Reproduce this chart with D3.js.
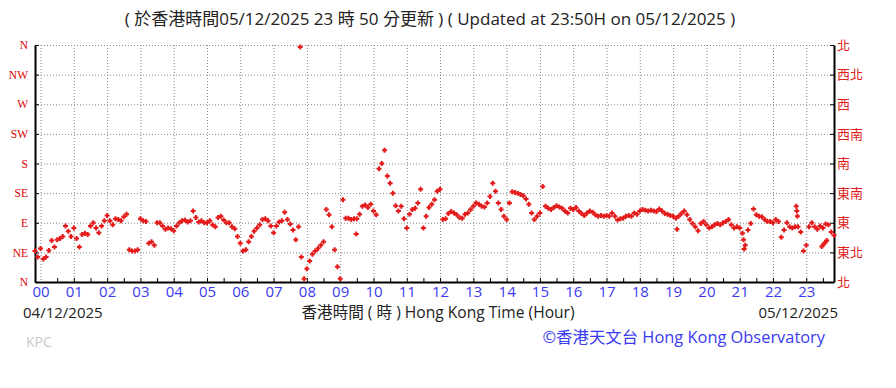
<!DOCTYPE html>
<html>
<head>
<meta charset="utf-8">
<script src="https://cdn.jsdelivr.net/npm/d3@7"></script>
<style>
body { margin: 0; background: #fff; }
svg { display: block; }
text { font-family: "Open Sans", "Noto Sans CJK TC", sans-serif; }
</style>
</head>
<body>
<svg id="chart" width="896" height="388"></svg>
<script>
// wind direction (degrees), one reading every 5 minutes from 23:50 of the day before
const startMin = -10;
const stepMin = 5;
const windDir = [
    47, 38,                                              // 23:50
    51, 35, 38, 48, 63, 53, 64, 66, 69, 85, 77, 69,      // 00
    82, 66, 53, 72, 74, 72, 85, 90, 82, 75, 85, 93,      // 01
    101, 93, 87, 96, 95, 93, 99, 103, 49, 47, 47, 49,    // 02
    96, 93, 92, 59, 61, 56, 90, 90, 85, 80, 82, 81,      // 03
    78, 85, 90, 93, 94, 91, 93, 108, 98, 91, 93, 90,     // 04
    90, 93, 87, 84, 98, 100, 94, 90, 90, 84, 81, 69,     // 05
    59, 47, 49, 61, 69, 77, 82, 87, 95, 96, 93, 85,      // 06
    75, 85, 91, 93, 106, 95, 88, 79, 64, 84, 38, 5,      // 07
    20, 32, 42, 47, 51, 56, 61, 110, 102, 84, 49, 23,    // 08
    5, 125, 97, 97, 95, 96, 96, 103, 115, 117, 113, 118, // 09
    108, 102, 172, 180, 200, 161, 150, 135, 116, 108, 115, 96, // 10
    82, 103, 110, 112, 120, 141, 82, 100, 113, 118, 125, 138,  // 11
    141, 95, 96, 104, 107, 105, 102, 98, 97, 103, 105, 110,    // 12
    115, 120, 118, 115, 114, 120, 130, 150, 138, 120, 110, 100, // 13
    95, 120, 137, 136, 135, 133, 131, 126, 118, 105, 95, 100,  // 14
    105, 145, 115, 112, 110, 113, 116, 114, 112, 108, 105, 112, // 15
    110, 113, 108, 104, 101, 105, 108, 106, 102, 100, 101, 100, // 16
    101, 100, 105, 100, 94, 96, 97, 100, 101, 100, 105, 103,   // 17
    108, 110, 109, 108, 109, 108, 107, 111, 108, 104, 103, 101, // 18
    100, 97, 100, 104, 108, 102, 95, 89, 84, 78, 89, 92,       // 19
    87, 82, 84, 87, 89, 87, 90, 92, 95, 87, 82, 84,            // 20
    82, 74, 56, 79, 89, 111, 102, 100, 99, 95, 92, 92,         // 21
    90, 95, 92, 68, 79, 90, 84, 82, 84, 84, 76, 47,            // 22
    56, 84, 90, 84, 80, 85, 82, 88, 87, 76, 71                 // 23
];
// stray readings: [minute, degrees]
const extraDir = [
    [468, 357], [569, 73], [1147, 80], [1267, 64], [1268, 50],
    [1362, 115], [1363, 108], [1364, 100],
    [1408, 54], [1411, 57], [1414, 60], [1417, 63]
];

const hours = d3.range(0, 24);
const dirTicks = [0, 45, 90, 135, 180, 225, 270, 315, 360];
const dirLabelsEn = ["N", "NE", "E", "SE", "S", "SW", "W", "NW", "N"];
const dirLabelsZh = ["北", "東北", "東", "東南", "南", "西南", "西", "西北", "北"];

const svg = d3.select("#chart");
const plotLeft = 35, plotRight = 834, plotTop = 45, plotBottom = 282;

const x = d3.scaleLinear().domain([startMin, 1430]).range([plotLeft, plotRight]);
const y = d3.scaleLinear().domain([0, 360]).range([plotBottom, plotTop]);

// gridlines
svg.append("g")
    .attr("transform", "translate(0," + plotTop + ")")
    .call(d3.axisBottom(x).tickValues(hours.map(h => h * 60)).tickSize(plotBottom - plotTop).tickFormat(""))
    .call(g => g.select(".domain").remove())
    .selectAll("line")
    .attr("stroke", "#8a8a8a")
    .attr("stroke-dasharray", "1,2");

svg.append("g")
    .attr("transform", "translate(" + plotLeft + ",0)")
    .call(d3.axisLeft(y).tickValues(dirTicks).tickSize(plotLeft - plotRight).tickFormat(""))
    .call(g => g.select(".domain").remove())
    .selectAll("line")
    .attr("stroke", "#8a8a8a")
    .attr("stroke-dasharray", "1,2");

// axes
let yLeft = svg.append("g")
    .attr("transform", "translate(" + plotLeft + ",0)")
    .call(d3.axisLeft(y).tickValues(dirTicks).tickSize(-4).tickSizeOuter(0).tickPadding(7)
        .tickFormat((d, i) => dirLabelsEn[i]));
yLeft.selectAll("text")
    .style("font-family", "'Liberation Serif', serif")
    .style("font-size", "11.5px")
    .attr("fill", "#e00000");

let yRight = svg.append("g")
    .attr("transform", "translate(" + plotRight + ",0)")
    .call(d3.axisRight(y).tickValues(dirTicks).tickSize(-4).tickSizeOuter(0).tickPadding(3)
        .tickFormat((d, i) => dirLabelsZh[i]));
yRight.selectAll("text")
    .style("font-size", "13px")
    .attr("fill", "#e02020");

let xAxis = svg.append("g")
    .attr("transform", "translate(0," + plotBottom + ")")
    .call(d3.axisBottom(x).tickValues(hours.map(h => h * 60)).tickSize(0).tickSizeOuter(0).tickPadding(4)
        .tickFormat((d, i) => d3.format("02d")(hours[i])));
xAxis.selectAll("text")
    .style("font-size", "15px")
    .attr("fill", "#3a3af0");

svg.append("g")
    .attr("transform", "translate(0," + plotBottom + ")")
    .call(d3.axisBottom(x).tickValues(d3.range(30, 1440, 30)).tickSize(-4).tickSizeOuter(0).tickFormat(""))
    .call(g => g.select(".domain").remove());

svg.selectAll(".domain").attr("stroke-width", 2);

// points
let points = windDir.map((d, i) => [startMin + i * stepMin, d]).concat(extraDir);
svg.append("g")
    .attr("id", "points")
    .selectAll("path")
    .data(points)
    .join("path")
    .attr("d", "M-2.5,0H2.5M0,-2.5V2.5")
    .attr("transform", d => "translate(" + x(d[0]) + "," + y(d[1]) + ")")
    .attr("stroke", "#e41a1a")
    .attr("stroke-width", 2);

// texts
svg.append("text")
    .attr("x", 430).attr("y", 25)
    .style("text-anchor", "middle")
    .style("font-size", "17px")
    .attr("fill", "#222")
    .text("( 於香港時間05/12/2025 23 時 50 分更新 ) ( Updated at 23:50H on 05/12/2025 )");

svg.append("text")
    .attr("x", 23).attr("y", 318)
    .style("font-size", "15px")
    .attr("fill", "#222")
    .text("04/12/2025");

svg.append("text")
    .attr("x", 438).attr("y", 318)
    .style("text-anchor", "middle")
    .style("font-size", "15.6px")
    .attr("fill", "#222")
    .text("香港時間 ( 時 ) Hong Kong Time (Hour)");

svg.append("text")
    .attr("x", 838).attr("y", 318)
    .style("text-anchor", "end")
    .style("font-size", "15px")
    .attr("fill", "#222")
    .text("05/12/2025");

svg.append("text")
    .attr("x", 825).attr("y", 343)
    .style("text-anchor", "end")
    .style("font-size", "16.4px")
    .attr("fill", "#3a3af0")
    .text("©香港天文台 Hong Kong Observatory");

svg.append("text")
    .attr("x", 26).attr("y", 347)
    .style("font-size", "14px")
    .attr("fill", "#c8c8c8")
    .text("KPC");
</script>
</body>
</html>
